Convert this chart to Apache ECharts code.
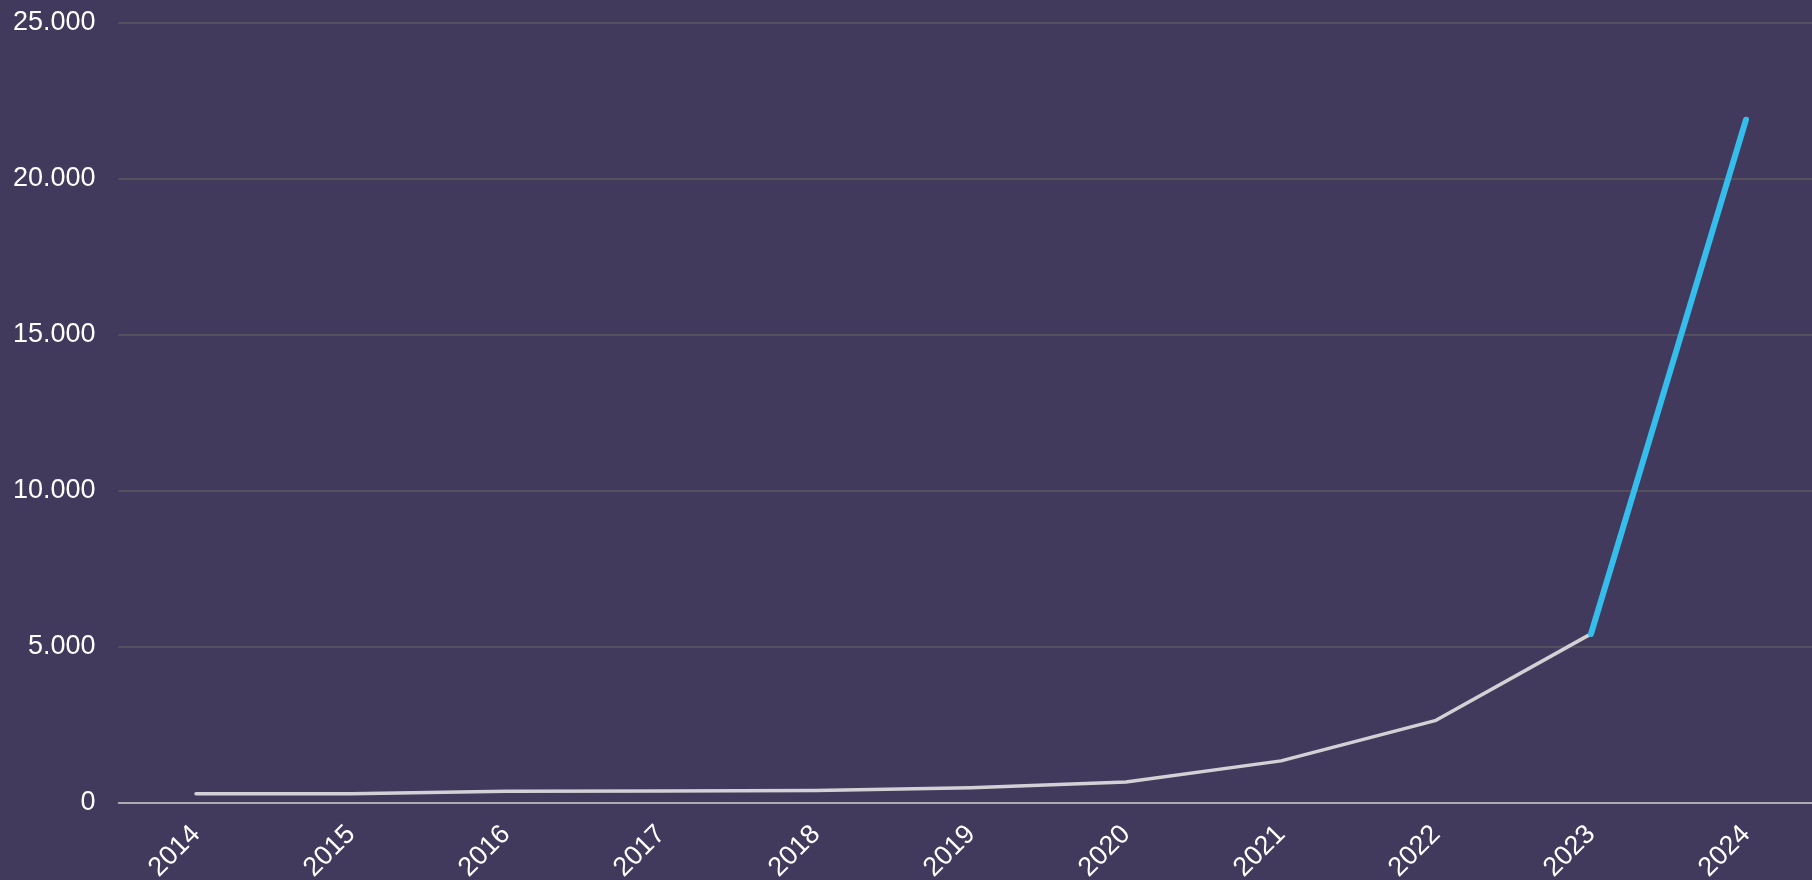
<!DOCTYPE html>
<html>
<head>
<meta charset="utf-8">
<style>
  html, body { margin: 0; padding: 0; background: #413a5c; }
  #main { width: 1812px; height: 880px; }
</style>
<script src="https://cdn.jsdelivr.net/npm/echarts@6/dist/echarts.min.js"></script>
</head>
<body>
<div id="main"></div>
<script>
const years = ['2014', '2015', '2016', '2017', '2018', '2019', '2020', '2021', '2022', '2023', '2024'];
const values = [300, 300, 380, 385, 400, 490, 670, 1350, 2650, 5420, 21900];
const yTicks = [0, 5000, 10000, 15000, 20000, 25000];

// laatste stuk (2023 -> 2024) in blauw
const splitIdx = years.indexOf('2023');
const pastData = values.map((v, i) => (i <= splitIdx ? v : null));
const recentData = values.map((v, i) => (i >= splitIdx ? v : null));

const fmt = v => String(v).replace(/\B(?=(\d{3})+(?!\d))/g, '.');

const chart = echarts.init(document.getElementById('main'));
chart.setOption({
  backgroundColor: '#413a5c',
  animation: false,
  textStyle: { fontFamily: 'Liberation Sans, Arial, sans-serif' },
  grid: { left: 118.5, top: 23, width: 1705, bottom: 77, outerBoundsMode: 'none', containLabel: false },
  xAxis: {
    type: 'category',
    data: years,
    boundaryGap: true,
    axisLine: { lineStyle: { color: '#cbc8d0', width: 1.5 } },
    axisTick: { show: false },
    axisLabel: {
      color: '#ffffff',
      fontSize: 27,
      rotate: 45,
      margin: 27
    }
  },
  yAxis: {
    type: 'value',
    min: yTicks[0],
    max: yTicks[yTicks.length - 1],
    interval: yTicks[1] - yTicks[0],
    axisLine: { show: false },
    axisTick: { show: false },
    splitLine: { lineStyle: { color: '#5c5a60', width: 1.5 } },
    axisLabel: { color: '#ffffff', fontSize: 27, margin: 23, formatter: fmt }
  },
  series: [
    {
      type: 'line',
      data: pastData,
      showSymbol: false,
      lineStyle: { color: '#d3d1d5', width: 3.5, cap: 'round', join: 'round' },
      z: 2
    },
    {
      type: 'line',
      data: recentData,
      showSymbol: false,
      lineStyle: { color: '#35bdec', width: 6, cap: 'round', join: 'round' },
      z: 3
    }
  ]
});
window.addEventListener('resize', () => chart.resize());
</script>
</body>
</html>
